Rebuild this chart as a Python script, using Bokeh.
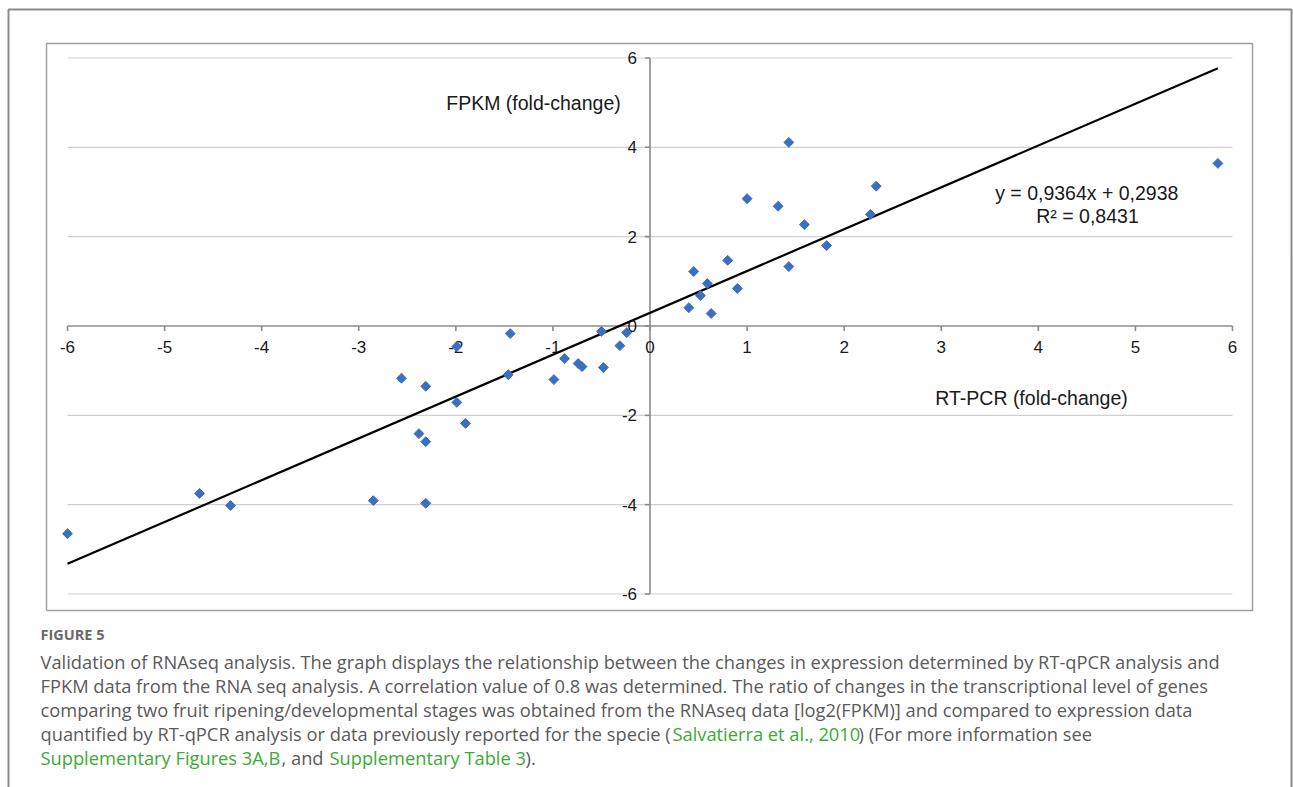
from bokeh.plotting import figure
from bokeh.models import Range1d
from bokeh.core.properties import value
from bokeh.embed import file_html
from bokeh.resources import INLINE
import math

# ---------------- data ----------------
rt_pcr = [-6.00, -4.64, -4.32, -2.85, -2.31, -2.56, -2.31, -2.38, -2.31, -1.99,
          -1.90, -1.99, -1.44, -1.46, -0.99, -0.88, -0.74, -0.70, -0.48, -0.50,
          -0.31, -0.24, 1.43, 1.00, 1.32, 2.33, 2.27, 1.59, 1.82, 1.43,
          0.80, 0.45, 0.59, 0.52, 0.90, 0.40, 0.63, 5.85]
fpkm = [-4.65, -3.75, -4.02, -3.91, -3.97, -1.17, -1.35, -2.41, -2.59, -1.71,
        -2.18, -0.46, -0.17, -1.09, -1.20, -0.73, -0.84, -0.91, -0.93, -0.12,
        -0.44, -0.15, 4.11, 2.85, 2.68, 3.13, 2.50, 2.27, 1.80, 1.33,
        1.47, 1.22, 0.95, 0.68, 0.84, 0.41, 0.28, 3.64]
slope = 0.9364
intercept = 0.2938
eq_text = "y = 0,9364x  + 0,2938"
r2_text = "R² = 0,8431"
x_ticks = [-6, -5, -4, -3, -2, -1, 0, 1, 2, 3, 4, 5, 6]
y_ticks = [-6, -4, -2, 0, 2, 4, 6]
x_title = "RT-PCR (fold-change)"
y_title = "FPKM (fold-change)"
fig_label = "FIGURE 5"
caption_lines = [
    "Validation of RNAseq analysis. The graph displays the relationship between the changes in expression determined by RT-qPCR analysis and",
    "FPKM data from the RNA seq analysis. A correlation value of 0.8 was determined. The ratio of changes in the transcriptional level of genes",
    "comparing two fruit ripening/developmental stages was obtained from the RNAseq data [log2(FPKM)] and compared to expression data",
]
caption_line4 = ["quantified by RT-qPCR analysis or data previously reported for the specie (", "Salvatierra et al., 2010", ") (For more information see"]
caption_line5 = ["Supplementary Figures 3A,B", ", and", "Supplementary Table 3", ")."]

# ---------------- layout (pixel geometry) ----------------
W, H = 1293, 787
X0, SX = 649.5, 97.08   # pixel of x=0, pixels per unit
Y0, SY = 325.5, 44.67   # pixel of y=0, pixels per unit


def fx(px):
    return (px - X0) / SX


def fy(py):
    return (Y0 - py) / SY


p = figure(width=W, height=H, output_backend="svg", toolbar_location=None,
           x_range=Range1d(fx(0), fx(W)), y_range=Range1d(fy(H), fy(0)),
           x_axis_type=None, y_axis_type=None, min_border=0,
           min_border_left=0, min_border_right=0, min_border_top=0, min_border_bottom=0)
p.grid.visible = False
p.outline_line_color = None
p.background_fill_color = "white"
p.border_fill_color = "white"

FONT = value("Liberation Sans")
CAP_FONT = value("Open Sans")

# outer frame (left, top, right, runs off bottom)
p.line([fx(8), fx(8), fx(1291), fx(1291)], [fy(H + 5), fy(9), fy(9), fy(H + 5)],
       line_color="#8a8a8a", line_width=2)
# chart box
p.line([fx(46), fx(46), fx(1252), fx(1252), fx(46)], [fy(610), fy(43), fy(43), fy(610), fy(610)],
       line_color="#a0a0a0", line_width=1.5)

# horizontal gridlines
xmin, xmax = x_ticks[0], x_ticks[-1]
ymin, ymax = y_ticks[0], y_ticks[-1]
gy = [t for t in y_ticks if t != 0]
p.segment(x0=[xmin] * len(gy), x1=[xmax] * len(gy), y0=gy, y1=gy,
          line_color="#cfcfcf", line_width=1.2)

# axes lines crossing at origin
p.segment(x0=[xmin], x1=[xmax], y0=[0], y1=[0], line_color="#8c8c8c", line_width=1.6)
p.segment(x0=[0], x1=[0], y0=[ymin], y1=[ymax], line_color="#8c8c8c", line_width=1.6)

# tick marks
tlx = 5 / SY
p.segment(x0=x_ticks, x1=x_ticks, y0=[0] * len(x_ticks), y1=[-tlx] * len(x_ticks),
          line_color="#8c8c8c", line_width=1.6)
tly = 5 / SX
p.segment(x0=[0] * len(y_ticks), x1=[-tly] * len(y_ticks), y0=y_ticks, y1=y_ticks,
          line_color="#8c8c8c", line_width=1.6)

# tick labels
p.text(x=x_ticks, y=[-21 / SY] * len(x_ticks), text=[str(t) for t in x_ticks],
       text_font=FONT, text_font_size="17px", text_color="#1a1a1a",
       text_align="center", text_baseline="middle")
p.text(x=[-13 / SX] * len(y_ticks), y=y_ticks, text=[str(t) for t in y_ticks],
       text_font=FONT, text_font_size="17px", text_color="#1a1a1a",
       text_align="right", text_baseline="middle")

# axis titles
p.text(x=[fx(533)], y=[fy(102)], text=[y_title], text_font=FONT, text_font_size="19.5px",
       text_color="#1a1a1a", text_align="center", text_baseline="middle")
p.text(x=[fx(1031)], y=[fy(397)], text=[x_title], text_font=FONT, text_font_size="19.5px",
       text_color="#1a1a1a", text_align="center", text_baseline="middle")

# regression line
lx = [min(rt_pcr), max(rt_pcr)]
ly = [slope * v + intercept for v in lx]
p.line(lx, ly, line_color="black", line_width=2.2)

# points
p.scatter(rt_pcr, fpkm, marker="square", size=7, angle=math.pi / 4,
          fill_color="#3b70c0", line_color="#3b70c0")

# equation
p.text(x=[fx(1089)], y=[fy(192)], text=[eq_text], text_font=FONT, text_font_size="19.5px",
       text_color="#1a1a1a", text_align="center", text_baseline="middle")
p.text(x=[fx(1087)], y=[fy(215)], text=[r2_text], text_font=FONT, text_font_size="19.5px",
       text_color="#1a1a1a", text_align="center", text_baseline="middle")

# caption
CAP_COL = "#5a5a5a"
GREEN = "#3aaa35"
CAP_SIZE = "18.3px"
p.text(x=[fx(40)], y=[fy(634)], text=[fig_label], text_font=CAP_FONT, text_font_size="14.5px",
       text_color="#6a6a6a", text_font_style="bold", text_align="left", text_baseline="middle")
line_y = [661, 685, 709, 733, 757]
for i, t in enumerate(caption_lines):
    p.text(x=[fx(40)], y=[fy(line_y[i])], text=[t], text_font=CAP_FONT, text_font_size=CAP_SIZE,
           text_color=CAP_COL, text_align="left", text_baseline="middle")
seg4_x = [40, 672, 858]
seg4_c = [CAP_COL, GREEN, CAP_COL]
for sx, t, c in zip(seg4_x, caption_line4, seg4_c):
    p.text(x=[fx(sx)], y=[fy(line_y[3])], text=[t], text_font=CAP_FONT, text_font_size=CAP_SIZE,
           text_color=c, text_align="left", text_baseline="middle")
seg5_x = [40, 281, 329, 525]
seg5_c = [GREEN, CAP_COL, GREEN, CAP_COL]
for sx, t, c in zip(seg5_x, caption_line5, seg5_c):
    p.text(x=[fx(sx)], y=[fy(line_y[4])], text=[t], text_font=CAP_FONT, text_font_size=CAP_SIZE,
           text_color=c, text_align="left", text_baseline="middle")

open("out.html", "w").write(file_html(p, INLINE))
